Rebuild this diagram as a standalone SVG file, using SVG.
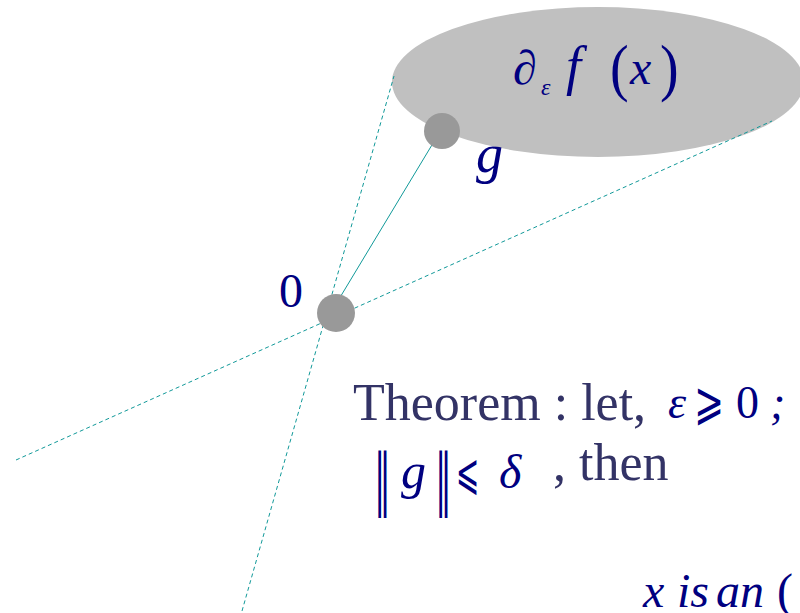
<svg xmlns="http://www.w3.org/2000/svg" width="800" height="613" viewBox="0 0 800 613">
<style>
.m{font-family:"Liberation Serif","DejaVu Serif",serif;font-style:italic;fill:#000080}
.r{font-family:"Liberation Serif","DejaVu Serif",serif;fill:#000080}
.s{font-family:"DejaVu Serif","DejaVu Sans",serif;fill:#000080}
.t{font-family:"Liberation Serif","DejaVu Serif",serif;fill:#333366}
.dash{stroke:#119999;stroke-width:1;stroke-dasharray:4 3;fill:none}
.pt{fill:#999999}
</style>
<rect width="800" height="613" fill="#ffffff"/>
<g id="set">
<ellipse cx="598" cy="82" rx="206" ry="75" fill="#c0c0c0"/>
<text class="r" x="513" y="84" font-size="48">∂</text>
<text class="m" x="541" y="95" font-size="24">ε</text>
<text class="m" x="566" y="84" font-size="54">f</text>
<text class="r" transform="translate(610,89) scale(1,1.15)" font-size="56">(</text>
<text class="m" x="630" y="84" font-size="48">x</text>
<text class="r" transform="translate(660,89) scale(1,1.15)" font-size="56">)</text>
</g>
<g id="connectors">
<line class="dash" x1="16" y1="460" x2="772" y2="121"/>
<line class="dash" x1="242" y1="611" x2="394" y2="76"/>
<line x1="333" y1="309" x2="447" y2="120" stroke="#119999" stroke-width="1"/>
</g>
<g id="g-point">
<circle class="pt" cx="442" cy="131" r="18"/>
<text class="m" x="476" y="172" font-size="54">g</text>
</g>
<g id="origin">
<circle class="pt" cx="336" cy="313" r="19"/>
<text class="r" x="279" y="307" font-size="48">0</text>
</g>
<g id="theorem">
<text class="t" x="353" y="420" font-size="52">Theorem : let,</text>
<text class="m" x="668" y="418" font-size="46">ε</text>
<text class="s" transform="translate(694,419) scale(0.85,1.25)" font-size="42">⩾</text>
<text class="r" x="736" y="418" font-size="46">0</text>
<text class="m" x="770" y="418" font-size="46">;</text>
<text class="s" transform="translate(374,502) scale(0.7,1.4)" font-size="48">‖</text>
<text class="m" x="401" y="488" font-size="50">g</text>
<text class="s" transform="translate(435,502) scale(0.7,1.4)" font-size="48">‖</text>
<text class="s" transform="translate(456,489) scale(0.7,1.25)" font-size="40">⩽</text>
<text class="m" x="499" y="488" font-size="48">δ</text>
<text class="t" x="553" y="480" font-size="52">, then</text>
<text class="m" x="643" y="607" font-size="48">x</text>
<text class="m" x="677" y="607" font-size="48">is</text>
<text class="m" x="716" y="607" font-size="48">an</text>
<text class="r" x="777" y="607" font-size="48">(</text>
</g>
</svg>
